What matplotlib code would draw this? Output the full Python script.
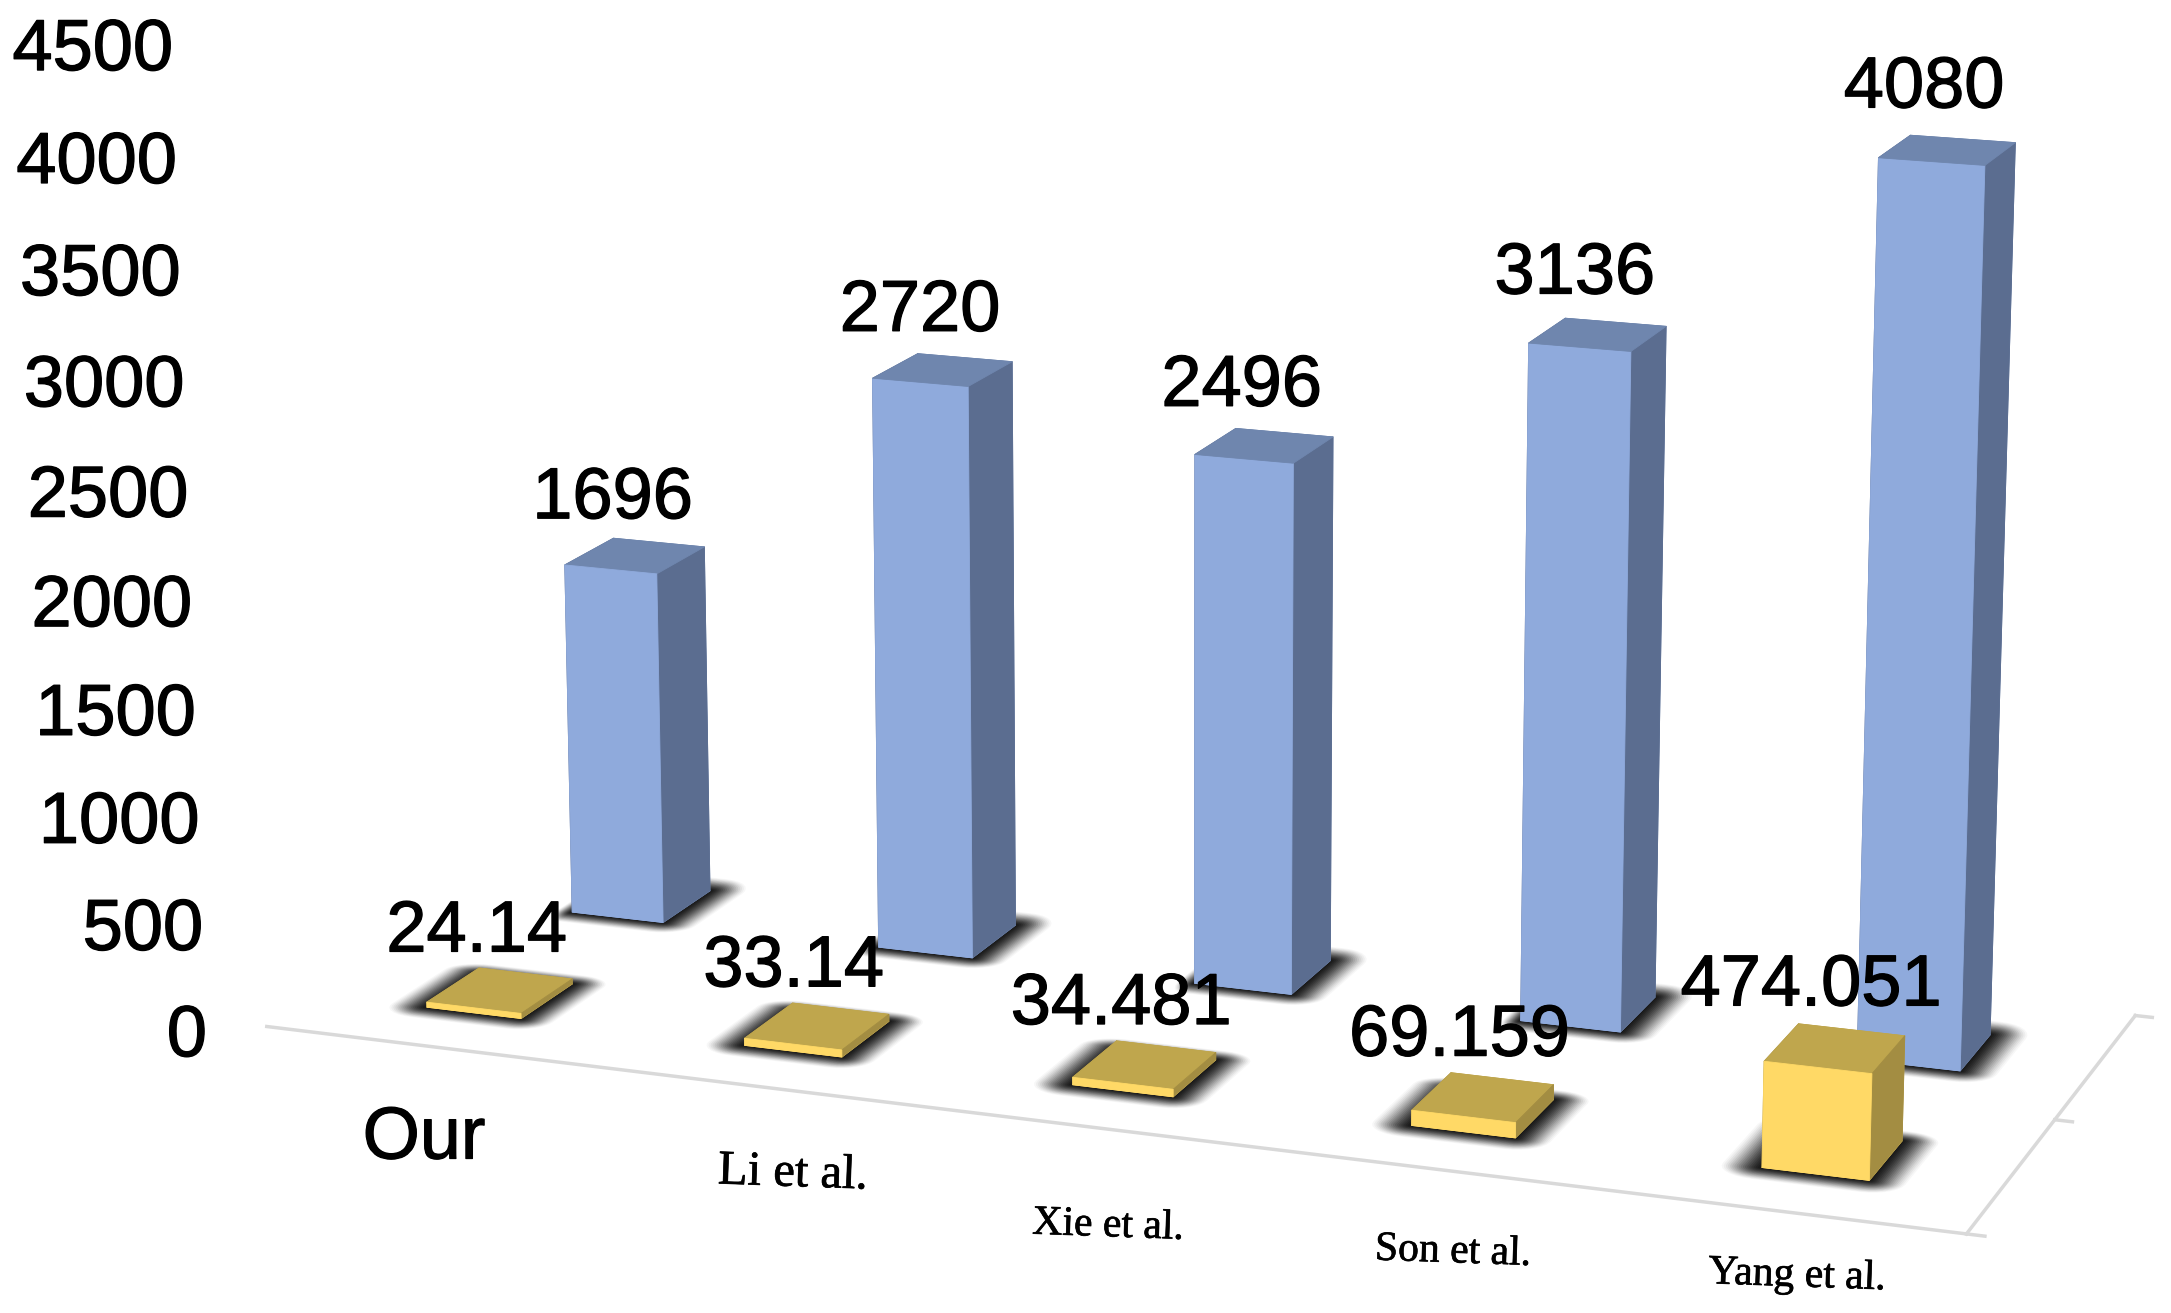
import numpy as np
import matplotlib
matplotlib.use('Agg')
import matplotlib.pyplot as plt
import matplotlib.patheffects as pe
from mpl_toolkits.mplot3d.art3d import Poly3DCollection

categories = ['Our', 'Li et al.', 'Xie et al.', 'Son et al.', 'Yang et al.']
yellow_vals = [24.14, 33.14, 34.481, 69.159, 474.051]
blue_vals = [1696, 2720, 2496, 3136, 4080]
z_ticks = [0, 500, 1000, 1500, 2000, 2500, 3000, 3500, 4000, 4500]

# label centres in pixels of the 2171x1313 picture
cat_px = [(424, 1139), (793, 1174), (1108, 1226), (1453, 1252), (1797, 1276)]
cat_size = [53, 35, 30, 30, 30]

W, H = 2171, 1313
bar_w = 0.3
bar_d = 0.35
floor_x = (-0.5, 4.5)
floor_y = [-0.325, 0.675, 1.675]

# camera: (category, depth, value) -> picture pixels, fitted by hand on the reference
CAM = np.array([
    [306.68890086583434, 170.64175431111948, -0.008735374111873608, 473.90665995681826],
    [21.705025945041307, -55.43837157866251, -0.21830746236123905, 1012.8655237944599],
    [-0.01581442680305391, 0.043748000207755586, -7.383872689320294e-06, 1.0]])

fig = plt.figure(figsize=(W / 100, H / 100), dpi=100, facecolor='white')
ax = fig.add_axes([0, 0, 1, 1], projection='3d')
ax.apply_aspect = lambda position=None: None  # keep the full figure, no square box
ax.set_axis_off()
ax.computed_zorder = False

# pixels (y down) -> the 2d data space of the axes, then hand it to mplot3d as its projection
px_to_disp = np.array([[1, 0, 0], [0, -1, H], [0, 0, 1]], float)
P = ax.transData.inverted().get_matrix() @ px_to_disp @ CAM
proj = np.array([P[0], P[1], [0, 0, 0, -1], P[2]])
ax.get_proj = lambda: proj


def to_fig(x, y, z):
    q = CAM @ np.array([x, y, z, 1.0])
    return q[0] / q[2] / W, 1 - q[1] / q[2] / H


def rounded(a, b, c, d, rx0, rx1, ry0, ry1):
    # floor rectangle with its corners cut round
    ang = np.linspace(0, np.pi / 2, 8)
    pts = []
    pts += [(b - rx1 + rx1 * np.sin(t), c + ry0 - ry0 * np.cos(t)) for t in ang]
    pts += [(b - rx1 + rx1 * np.cos(t), d - ry1 + ry1 * np.sin(t)) for t in ang]
    pts += [(a + rx0 - rx0 * np.sin(t), d - ry1 + ry1 * np.cos(t)) for t in ang]
    pts += [(a + rx0 - rx0 * np.cos(t), c + ry0 - ry0 * np.sin(t)) for t in ang]
    return [(px, py, 0) for px, py in pts]


def shadow(i, s, left, right, front, back, zorder):
    # soft shadow on the floor, stacked see-through shapes, fading to the outside
    x0, x1 = i - bar_w / 2, i + bar_w / 2
    y0, y1 = s, s + bar_d
    for t in np.linspace(1, 0, 20):
        verts = [rounded(x0 - left * t, x1 + right * t, y0 - front * t, y1 + back * t,
                         left * t, right * t, front * t, back * t)]
        alpha = 0.03 + 0.17 * (1 - t)
        ax.add_collection3d(Poly3DCollection(verts, facecolors=[(0, 0, 0, alpha)], linewidths=0, zorder=zorder))


def bar(i, s, val, front, top, side, zorder):
    # faces: bottom, top, front, back, left, right
    cols = [front, top, front, top, side, side]
    ax.bar3d(i - bar_w / 2, s, 0, bar_w, bar_d, val, color=cols, shade=False,
             linewidths=0.6, edgecolors=cols, zorder=zorder)


# floor lines
line_c = '#D9D9D9'
ax.plot(floor_x, [floor_y[0]] * 2, [0, 0], color=line_c, lw=2.5, zorder=1)
ax.plot([floor_x[1]] * 2, [floor_y[0], floor_y[-1]], [0, 0], color=line_c, lw=2.5, zorder=1)
for yy in floor_y:
    ax.plot([floor_x[1], floor_x[1] + 0.05], [yy, yy], [0, 0], color=line_c, lw=2.5, zorder=1)

for i in range(len(categories)):
    shadow(i, 1, 0.05, 0.105, 0.10, 0.13, 2)
    shadow(i, 0, 0.11, 0.10, 0.10, 0.085, 2)

for i, v in enumerate(blue_vals):
    bar(i, 1, v, '#8FAADC', '#6F86AE', '#5B6D90', 3)
for i, v in enumerate(yellow_vals):
    bar(i, 0, v, '#FFD966', '#BFA64D', '#A38D42', 4)

font = ['Liberation Sans', 'DejaVu Sans']
heavy = [pe.withStroke(linewidth=0.9, foreground='black')]

# value labels sit a fixed step above the top of each bar
for s, vals in [(1, blue_vals), (0, yellow_vals)]:
    for i, v in enumerate(vals):
        fx, fy = to_fig(i - 0.07, s + bar_d / 2, v + 262)
        fig.text(fx, fy, str(v), ha='center', va='center', fontsize=52, family=font,
                 color='black', zorder=6, path_effects=heavy)

for t in z_ticks:
    fx, fy = to_fig(-0.6, -0.5, t * 0.993 + 13)
    fig.text(fx, fy, str(t), ha='right', va='center', fontsize=52, family=font,
             color='black', zorder=6, path_effects=heavy)

# category labels, only the first one is sans
for i, (name, (px, py)) in enumerate(zip(categories, cat_px)):
    if i == 0:
        fig.text(px / W, 1 - py / H, name, ha='center', va='center', fontsize=cat_size[i],
                 family=font, path_effects=heavy)
    else:
        fig.text(px / W, 1 - py / H, name, ha='center', va='center', fontsize=cat_size[i],
                 family=['Liberation Serif', 'DejaVu Serif'], rotation=-2,
                 path_effects=[pe.withStroke(linewidth=0.5, foreground='black')])

fig.savefig('out.png', dpi=100, facecolor='white')
